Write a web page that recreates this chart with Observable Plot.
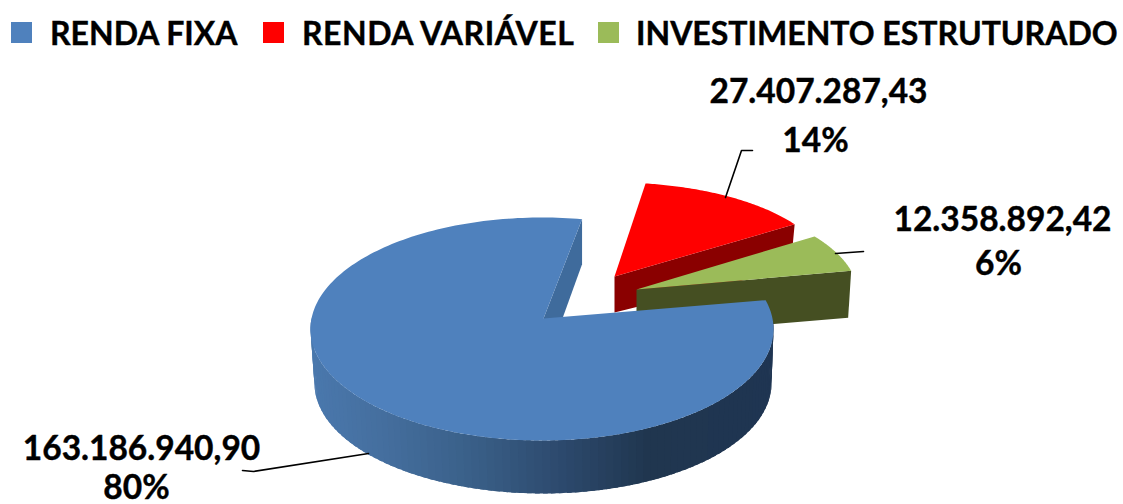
<!DOCTYPE html>
<html><head><meta charset="utf-8">
<script src="https://cdn.jsdelivr.net/npm/d3@7"></script>
<script src="https://cdn.jsdelivr.net/npm/@observablehq/plot@0.6"></script>
<style>
html,body{margin:0;padding:0;background:#fff;width:1123px;height:504px;overflow:hidden}
#legend{position:relative;height:60px;font:700 32px Lato,sans-serif;color:#000;-webkit-text-stroke:0.4px #000}
#legend i{position:absolute;top:22px;width:21px;height:21px}
#legend span{position:absolute;top:14px;line-height:38px;white-space:nowrap}
#legend span:nth-of-type(2){letter-spacing:0.5px}
svg{display:block;overflow:visible}
</style></head><body>
<div id="legend"></div>
<div id="chart"></div>
<script>
const categories = ["RENDA FIXA", "RENDA VARIÁVEL", "INVESTIMENTO ESTRUTURADO"];
const values = [163186940.90, 27407287.43, 12358892.42];
const valueLabels = ["163.186.940,90", "27.407.287,43", "12.358.892,42"];
const percentLabels = ["80%", "14%", "6%"];
const colors = ["#4f81bd", "#ff0000", "#9bbb59"];
const sideColors = ["#3f6a9b", "#8a0000", "#454f22"];

// legend
const legendPos = [[11,50],[263,302],[598,636]];
const lg = document.getElementById("legend");
categories.forEach((c,i)=>{
  const sw=document.createElement("i"); sw.style.left=legendPos[i][0]+"px"; sw.style.background=colors[i]; lg.appendChild(sw);
  const s=document.createElement("span"); s.style.left=legendPos[i][1]+"px"; s.textContent=c; lg.appendChild(s);
});

// slice geometry: each slice's sweep comes from its share of the total
const total = d3.sum(values);
const deg = Math.PI/180;
const share = values.map(v=>v/total*360);
const rim = (g,t)=>[g.cx+g.rx*Math.cos(t*deg), g.cy+g.ry*Math.sin(t*deg)];
const arc = (g,a,b,n=80)=>d3.range(n+1).map(i=>rim(g,a+(b-a)*i/n));

const blueTop = {cx:541.5,cy:328.5,rx:231.5,ry:111.5};
const blueBot = {cx:542.5,cy:383,rx:228.5,ry:110};
const blueStart = -15, blueEnd = blueStart + share[0]*1.019;
const redTop = {cx:614,cy:274,rx:215,ry:92};
const redStart = -81.7, redEnd = redStart + share[1];
const greenTop = {cx:636,cy:296,rx:222,ry:100.6};
const greenStart = -36.7, greenEnd = greenStart + share[2];

const polys = [];
const add = (id,pts,fill)=>pts.forEach(p=>polys.push({id,x:p[0],y:p[1],fill}));
// red
add("redSide",[[614,276],rim(redTop,redEnd),[790,268],[614,312]],sideColors[1]);
add("redTop",[[614,276],...arc(redTop,redStart,redEnd)],colors[1]);
// green
const gEnd = rim(greenTop,greenEnd);
add("greenSide",[[636,289],gEnd,[gEnd[0]-3,gEnd[1]+47],[636,335]],sideColors[2]);
add("greenTop",[[636,289],...arc(greenTop,greenStart,greenEnd)],colors[2]);
// blue outer wall, in shaded strips that overlap so no seams show
const shade = d3.scaleLinear()
  .domain([310,380,470,560,650,773])
  .range(["#4a78ad","#456f9f","#3a6089","#2d4a6e","#20364f","#1f3552"])
  .interpolate(d3.interpolateRgb);
const N=95, A0=186, A1=-4;
for(let i=0;i<N;i++){
  const a=A0+(A1-A0)*i/N, b=A0+(A1-A0)*(i+1.6)/N;
  const wallTop=arc(blueTop,a,b,3), wallBot=arc(blueBot,b,a,3);
  add("wall"+i,[...wallTop,...wallBot],shade((wallTop[0][0]+wallTop[3][0])/2));
}
// blue inner cut face
const bEnd = rim(blueTop,blueEnd);
add("blueCut",[bEnd,[bEnd[0],bEnd[1]+45],[554,340],[543,318]],"#3f6b9c");
// blue top face
add("blueTop",[[543,318],...arc(blueTop,blueStart,blueEnd,240)],colors[0]);

const leaders = [
  {id:"a",x:368,y:453},{id:"a",x:253,y:471},{id:"a",x:242,y:470},
  {id:"b",x:725,y:197},{id:"b",x:741,y:150},{id:"b",x:752,y:150},
  {id:"c",x:835,y:253},{id:"c",x:863,y:251}
];
const labels = [
  {t:valueLabels[1],x:818,y:92},{t:percentLabels[1],x:815,y:141},
  {t:valueLabels[2],x:1002,y:220},{t:percentLabels[2],x:998,y:264},
  {t:valueLabels[0],x:141,y:449},{t:percentLabels[0],x:136,y:488}
];

const plot = Plot.plot({
  width:1123,height:444,margin:0,
  x:{domain:[0,1123],range:[0,1123],axis:null},
  y:{domain:[60,504],range:[0,444],axis:null},
  color:{type:"identity"},
  marks:[
    Plot.line(polys,{x:"x",y:"y",z:"id",fill:"fill",curve:"linear-closed",stroke:null}),
    Plot.line(leaders,{x:"x",y:"y",z:"id",stroke:"#000",strokeWidth:1.6}),
    Plot.text(labels,{x:"x",y:"y",text:"t",fontSize:33.5,fontWeight:700,fontFamily:"Lato",fill:"#000",stroke:"#000",strokeWidth:0.4})
  ]
});
document.getElementById("chart").appendChild(plot);
</script>
</body></html>
